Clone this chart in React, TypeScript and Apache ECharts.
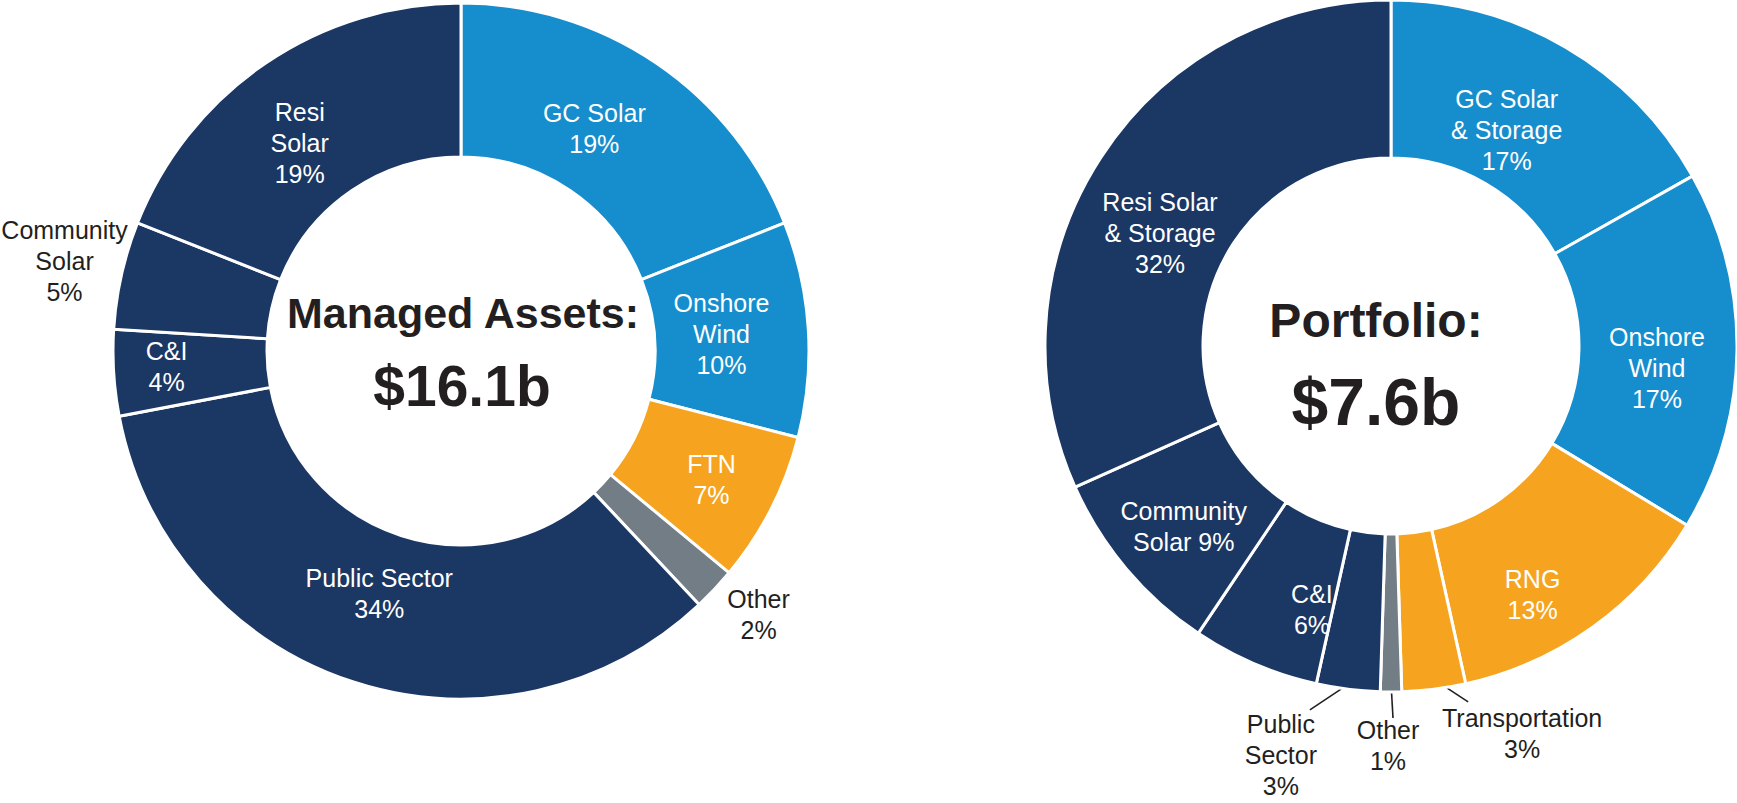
import React, { useEffect, useRef } from "react";
import * as echarts from "echarts";

// ---------------- data ----------------
const managedCategories = ["GC Solar", "Onshore Wind", "FTN", "Other", "Public Sector", "C&I", "Community Solar", "Resi Solar"];
const managedLabelText = ["GC Solar\n{v}%", "Onshore\nWind\n{v}%", "FTN\n{v}%", "Other\n{v}%", "Public Sector\n{v}%", "C&I\n{v}%", "Community\nSolar\n{v}%", "Resi\nSolar\n{v}%"];
const managedValues = [19, 10, 7, 2, 34, 4, 5, 19];
const managedTitle = "Managed Assets:";
const managedTotal = "$16.1b";

const portfolioCategories = ["GC Solar & Storage", "Onshore Wind", "RNG", "Transportation", "Other", "Public Sector", "C&I", "Community Solar", "Resi Solar & Storage"];
const portfolioLabelText = ["GC Solar\n& Storage\n{v}%", "Onshore\nWind\n{v}%", "RNG\n{v}%", "Transportation\n{v}%", "Other\n{v}%", "Public\nSector\n{v}%", "C&I\n{v}%", "Community\nSolar {v}%", "Resi Solar\n& Storage\n{v}%"];
const portfolioValues = [17, 17, 13, 3, 1, 3, 6, 9, 32];
const portfolioTitle = "Portfolio:";
const portfolioTotal = "$7.6b";

// ---------------- styles ----------------
const NAVY = "#1b3764";
const BLUE = "#168dcd";
const ORANGE = "#f6a420";
const GRAY = "#737d85";
const DARK = "#231f20";
const FONT = '"Liberation Sans", Arial, Helvetica, sans-serif';

const managedColors = [BLUE, BLUE, ORANGE, GRAY, NAVY, NAVY, NAVY, NAVY];
const portfolioColors = [BLUE, BLUE, ORANGE, ORANGE, GRAY, NAVY, NAVY, NAVY, NAVY];
const managedOutside = [false, false, false, true, false, false, true, false];
const portfolioOutside = [false, false, false, true, true, true, false, false, false];
// label offsets from the slice's mid-ring point
const managedNudge = [[-19, 2], [-10, 0], [9, 5], [100, 78], [2, -15], [-24, -2], [-132, -31], [-9, 16]];
const portfolioNudge = [[-19, 15], [-1, 18], [-14, 32], [98, 123], [-3, 132], [-77, 144], [26, 18], [-3, 9], [-7, 32]];
const managedLeaders: (number[][] | null)[] = [null, null, null, null, null, null, null, null];
const portfolioLeaders: (number[][] | null)[] = [null, null, null, [[9, 68], [44, 91]], [[0, 70], [2, 105]], [[-6, 71], [-48, 99]], null, null, null];

const LEFT = { cx: 461, cy: 351, r0: 194, r1: 348 };
const RIGHT = { cx: 1391, cy: 346, r0: 188, r1: 346 };

function midAngles(values: number[]) {
  const total = values.reduce((a, b) => a + b, 0);
  let acc = 0;
  return values.map((v) => {
    const m = ((acc + v / 2) / total) * 2 * Math.PI;
    acc += v;
    return m;
  });
}

function buildSeries(
  name: string,
  cats: string[],
  labels: string[],
  values: number[],
  colors: string[],
  outside: boolean[],
  nudge: number[][],
  leaders: (number[][] | null)[],
  geo: { cx: number; cy: number; r0: number; r1: number }
) {
  const mids = midAngles(values);
  const rMid = (geo.r0 + geo.r1) / 2;
  const base = (i: number) => [geo.cx + rMid * Math.sin(mids[i]), geo.cy - rMid * Math.cos(mids[i])];
  return {
    type: "pie",
    name,
    center: [geo.cx, geo.cy],
    radius: [geo.r0, geo.r1],
    startAngle: 90,
    clockwise: true,
    avoidLabelOverlap: false,
    silent: true,
    itemStyle: { borderColor: "#ffffff", borderWidth: 3 },
    label: { show: true, fontFamily: FONT, fontSize: 25, lineHeight: 31 },
    labelLine: { show: false },
    labelLayout: (p: any) => {
      const i = p.dataIndex;
      const [bx, by] = base(i);
      const [dx, dy] = nudge[i];
      const res: any = { x: bx + dx, y: by + dy, align: "center", verticalAlign: "middle" };
      const l = leaders[i];
      if (l) res.labelLinePoints = l.map(([ax, ay]) => [bx + ax, by + ay]);
      return res;
    },
    data: cats.map((c, i) => ({
      name: c,
      value: values[i],
      itemStyle: { color: colors[i] },
      label: {
        position: outside[i] ? "outside" : "inside",
        color: outside[i] ? DARK : "#ffffff",
        formatter: labels[i].replace("{v}", String(values[i])),
      },
      labelLine: {
        show: !!leaders[i],
        length: 10,
        length2: 10,
        lineStyle: { color: DARK, width: 1.6 },
      },
    })),
  };
}

export default function App() {
  const ref = useRef<HTMLDivElement>(null);
  useEffect(() => {
    document.body.style.margin = "0";
    if (!ref.current) return;
    const chart = echarts.init(ref.current, undefined, { renderer: "svg" });
    const centerText = (x: number, y: number, text: string, size: number) => ({
      type: "text",
      x,
      y,
      style: {
        text,
        fill: DARK,
        fontFamily: FONT,
        fontWeight: "bold",
        fontSize: size,
        textAlign: "center",
        textVerticalAlign: "middle",
        align: "center",
        verticalAlign: "middle",
      },
    });
    chart.setOption({
      animation: false,
      backgroundColor: "#ffffff",
      series: [
        buildSeries("Managed Assets", managedCategories, managedLabelText, managedValues, managedColors, managedOutside, managedNudge, managedLeaders, LEFT),
        buildSeries("Portfolio", portfolioCategories, portfolioLabelText, portfolioValues, portfolioColors, portfolioOutside, portfolioNudge, portfolioLeaders, RIGHT),
      ],
      graphic: [
        centerText(LEFT.cx + 2, 313, managedTitle, 43),
        centerText(LEFT.cx + 1, 386, managedTotal, 57),
        centerText(RIGHT.cx - 15, 320, portfolioTitle, 48),
        centerText(RIGHT.cx - 15, 402, portfolioTotal, 66),
      ],
    });
    return () => chart.dispose();
  }, []);
  return <div ref={ref} style={{ width: 1737, height: 803 }} />;
}
